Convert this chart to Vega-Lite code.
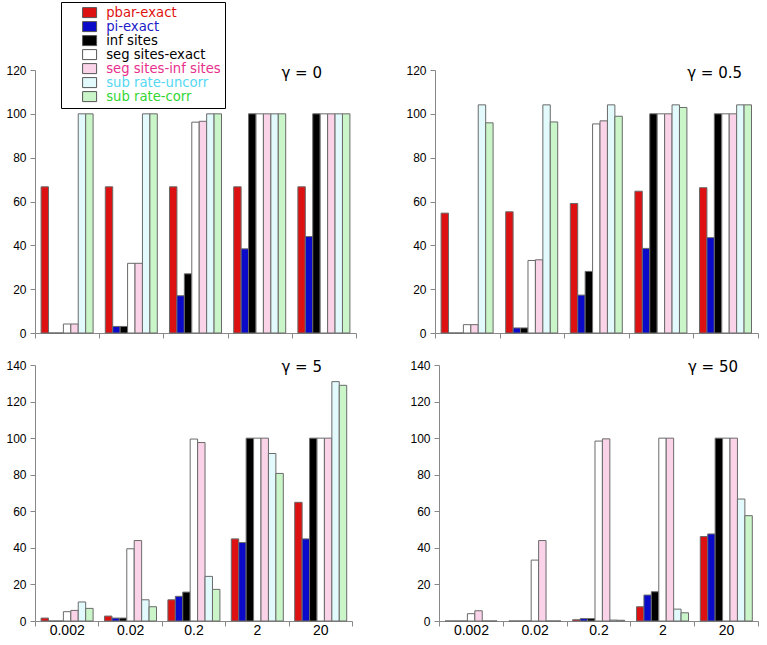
{
  "$schema": "https://vega.github.io/schema/vega-lite/v6.json",
  "background": "white",
  "padding": {"left": 5, "top": 1, "right": 2, "bottom": 0},
  "datasets": {
    "bars": [
      {"g": "0", "n": "0.002", "s": "pbar-exact", "v": 66.7},
      {"g": "0", "n": "0.002", "s": "pi-exact", "v": 0},
      {"g": "0", "n": "0.002", "s": "inf sites", "v": 0},
      {"g": "0", "n": "0.002", "s": "seg sites-exact", "v": 4.1},
      {"g": "0", "n": "0.002", "s": "seg sites-inf sites", "v": 4.1},
      {"g": "0", "n": "0.002", "s": "sub rate-uncorr", "v": 100},
      {"g": "0", "n": "0.002", "s": "sub rate-corr", "v": 100},
      {"g": "0", "n": "0.02", "s": "pbar-exact", "v": 66.7},
      {"g": "0", "n": "0.02", "s": "pi-exact", "v": 3.0},
      {"g": "0", "n": "0.02", "s": "inf sites", "v": 3.0},
      {"g": "0", "n": "0.02", "s": "seg sites-exact", "v": 31.8},
      {"g": "0", "n": "0.02", "s": "seg sites-inf sites", "v": 31.8},
      {"g": "0", "n": "0.02", "s": "sub rate-uncorr", "v": 100},
      {"g": "0", "n": "0.02", "s": "sub rate-corr", "v": 100},
      {"g": "0", "n": "0.2", "s": "pbar-exact", "v": 66.7},
      {"g": "0", "n": "0.2", "s": "pi-exact", "v": 17},
      {"g": "0", "n": "0.2", "s": "inf sites", "v": 27},
      {"g": "0", "n": "0.2", "s": "seg sites-exact", "v": 96.2},
      {"g": "0", "n": "0.2", "s": "seg sites-inf sites", "v": 96.6},
      {"g": "0", "n": "0.2", "s": "sub rate-uncorr", "v": 100},
      {"g": "0", "n": "0.2", "s": "sub rate-corr", "v": 100},
      {"g": "0", "n": "2", "s": "pbar-exact", "v": 66.7},
      {"g": "0", "n": "2", "s": "pi-exact", "v": 38.4},
      {"g": "0", "n": "2", "s": "inf sites", "v": 100},
      {"g": "0", "n": "2", "s": "seg sites-exact", "v": 100},
      {"g": "0", "n": "2", "s": "seg sites-inf sites", "v": 100},
      {"g": "0", "n": "2", "s": "sub rate-uncorr", "v": 100},
      {"g": "0", "n": "2", "s": "sub rate-corr", "v": 100},
      {"g": "0", "n": "20", "s": "pbar-exact", "v": 66.7},
      {"g": "0", "n": "20", "s": "pi-exact", "v": 44},
      {"g": "0", "n": "20", "s": "inf sites", "v": 100},
      {"g": "0", "n": "20", "s": "seg sites-exact", "v": 100},
      {"g": "0", "n": "20", "s": "seg sites-inf sites", "v": 100},
      {"g": "0", "n": "20", "s": "sub rate-uncorr", "v": 100},
      {"g": "0", "n": "20", "s": "sub rate-corr", "v": 100},

      {"g": "0.5", "n": "0.002", "s": "pbar-exact", "v": 54.7},
      {"g": "0.5", "n": "0.002", "s": "pi-exact", "v": 0},
      {"g": "0.5", "n": "0.002", "s": "inf sites", "v": 0},
      {"g": "0.5", "n": "0.002", "s": "seg sites-exact", "v": 3.8},
      {"g": "0.5", "n": "0.002", "s": "seg sites-inf sites", "v": 3.8},
      {"g": "0.5", "n": "0.002", "s": "sub rate-uncorr", "v": 104.1},
      {"g": "0.5", "n": "0.002", "s": "sub rate-corr", "v": 95.9},
      {"g": "0.5", "n": "0.02", "s": "pbar-exact", "v": 55.3},
      {"g": "0.5", "n": "0.02", "s": "pi-exact", "v": 2.3},
      {"g": "0.5", "n": "0.02", "s": "inf sites", "v": 2.3},
      {"g": "0.5", "n": "0.02", "s": "seg sites-exact", "v": 33.1},
      {"g": "0.5", "n": "0.02", "s": "seg sites-inf sites", "v": 33.4},
      {"g": "0.5", "n": "0.02", "s": "sub rate-uncorr", "v": 104.1},
      {"g": "0.5", "n": "0.02", "s": "sub rate-corr", "v": 96.3},
      {"g": "0.5", "n": "0.2", "s": "pbar-exact", "v": 59.1},
      {"g": "0.5", "n": "0.2", "s": "pi-exact", "v": 17.3},
      {"g": "0.5", "n": "0.2", "s": "inf sites", "v": 28.1},
      {"g": "0.5", "n": "0.2", "s": "seg sites-exact", "v": 95.4},
      {"g": "0.5", "n": "0.2", "s": "seg sites-inf sites", "v": 96.8},
      {"g": "0.5", "n": "0.2", "s": "sub rate-uncorr", "v": 104.1},
      {"g": "0.5", "n": "0.2", "s": "sub rate-corr", "v": 98.9},
      {"g": "0.5", "n": "2", "s": "pbar-exact", "v": 64.7},
      {"g": "0.5", "n": "2", "s": "pi-exact", "v": 38.6},
      {"g": "0.5", "n": "2", "s": "inf sites", "v": 100},
      {"g": "0.5", "n": "2", "s": "seg sites-exact", "v": 100},
      {"g": "0.5", "n": "2", "s": "seg sites-inf sites", "v": 100},
      {"g": "0.5", "n": "2", "s": "sub rate-uncorr", "v": 104.1},
      {"g": "0.5", "n": "2", "s": "sub rate-corr", "v": 102.9},
      {"g": "0.5", "n": "20", "s": "pbar-exact", "v": 66.3},
      {"g": "0.5", "n": "20", "s": "pi-exact", "v": 43.5},
      {"g": "0.5", "n": "20", "s": "inf sites", "v": 100},
      {"g": "0.5", "n": "20", "s": "seg sites-exact", "v": 100},
      {"g": "0.5", "n": "20", "s": "seg sites-inf sites", "v": 100},
      {"g": "0.5", "n": "20", "s": "sub rate-uncorr", "v": 104.1},
      {"g": "0.5", "n": "20", "s": "sub rate-corr", "v": 104.1},

      {"g": "5", "n": "0.002", "s": "pbar-exact", "v": 1.6},
      {"g": "5", "n": "0.002", "s": "pi-exact", "v": 0},
      {"g": "5", "n": "0.002", "s": "inf sites", "v": 0},
      {"g": "5", "n": "0.002", "s": "seg sites-exact", "v": 5.1},
      {"g": "5", "n": "0.002", "s": "seg sites-inf sites", "v": 5.8},
      {"g": "5", "n": "0.002", "s": "sub rate-uncorr", "v": 10.4},
      {"g": "5", "n": "0.002", "s": "sub rate-corr", "v": 6.9},
      {"g": "5", "n": "0.02", "s": "pbar-exact", "v": 2.7},
      {"g": "5", "n": "0.02", "s": "pi-exact", "v": 1.6},
      {"g": "5", "n": "0.02", "s": "inf sites", "v": 1.6},
      {"g": "5", "n": "0.02", "s": "seg sites-exact", "v": 39.5},
      {"g": "5", "n": "0.02", "s": "seg sites-inf sites", "v": 44},
      {"g": "5", "n": "0.02", "s": "sub rate-uncorr", "v": 11.6},
      {"g": "5", "n": "0.02", "s": "sub rate-corr", "v": 7.8},
      {"g": "5", "n": "0.2", "s": "pbar-exact", "v": 11.6},
      {"g": "5", "n": "0.2", "s": "pi-exact", "v": 13.5},
      {"g": "5", "n": "0.2", "s": "inf sites", "v": 15.8},
      {"g": "5", "n": "0.2", "s": "seg sites-exact", "v": 99.5},
      {"g": "5", "n": "0.2", "s": "seg sites-inf sites", "v": 97.6},
      {"g": "5", "n": "0.2", "s": "sub rate-uncorr", "v": 24.4},
      {"g": "5", "n": "0.2", "s": "sub rate-corr", "v": 17.3},
      {"g": "5", "n": "2", "s": "pbar-exact", "v": 44.9},
      {"g": "5", "n": "2", "s": "pi-exact", "v": 42.9},
      {"g": "5", "n": "2", "s": "inf sites", "v": 100},
      {"g": "5", "n": "2", "s": "seg sites-exact", "v": 100},
      {"g": "5", "n": "2", "s": "seg sites-inf sites", "v": 100},
      {"g": "5", "n": "2", "s": "sub rate-uncorr", "v": 91.6},
      {"g": "5", "n": "2", "s": "sub rate-corr", "v": 80.7},
      {"g": "5", "n": "20", "s": "pbar-exact", "v": 64.9},
      {"g": "5", "n": "20", "s": "pi-exact", "v": 44.9},
      {"g": "5", "n": "20", "s": "inf sites", "v": 100},
      {"g": "5", "n": "20", "s": "seg sites-exact", "v": 100},
      {"g": "5", "n": "20", "s": "seg sites-inf sites", "v": 100},
      {"g": "5", "n": "20", "s": "sub rate-uncorr", "v": 130.9},
      {"g": "5", "n": "20", "s": "sub rate-corr", "v": 128.9},

      {"g": "50", "n": "0.002", "s": "pbar-exact", "v": 0},
      {"g": "50", "n": "0.002", "s": "pi-exact", "v": 0},
      {"g": "50", "n": "0.002", "s": "inf sites", "v": 0},
      {"g": "50", "n": "0.002", "s": "seg sites-exact", "v": 4},
      {"g": "50", "n": "0.002", "s": "seg sites-inf sites", "v": 5.6},
      {"g": "50", "n": "0.002", "s": "sub rate-uncorr", "v": 0},
      {"g": "50", "n": "0.002", "s": "sub rate-corr", "v": 0},
      {"g": "50", "n": "0.02", "s": "pbar-exact", "v": 0},
      {"g": "50", "n": "0.02", "s": "pi-exact", "v": 0},
      {"g": "50", "n": "0.02", "s": "inf sites", "v": 0},
      {"g": "50", "n": "0.02", "s": "seg sites-exact", "v": 33.3},
      {"g": "50", "n": "0.02", "s": "seg sites-inf sites", "v": 44},
      {"g": "50", "n": "0.02", "s": "sub rate-uncorr", "v": 0},
      {"g": "50", "n": "0.02", "s": "sub rate-corr", "v": 0},
      {"g": "50", "n": "0.2", "s": "pbar-exact", "v": 0.7},
      {"g": "50", "n": "0.2", "s": "pi-exact", "v": 1.3},
      {"g": "50", "n": "0.2", "s": "inf sites", "v": 1.3},
      {"g": "50", "n": "0.2", "s": "seg sites-exact", "v": 98.4},
      {"g": "50", "n": "0.2", "s": "seg sites-inf sites", "v": 99.6},
      {"g": "50", "n": "0.2", "s": "sub rate-uncorr", "v": 0.5},
      {"g": "50", "n": "0.2", "s": "sub rate-corr", "v": 0.4},
      {"g": "50", "n": "2", "s": "pbar-exact", "v": 7.8},
      {"g": "50", "n": "2", "s": "pi-exact", "v": 14.2},
      {"g": "50", "n": "2", "s": "inf sites", "v": 16},
      {"g": "50", "n": "2", "s": "seg sites-exact", "v": 100},
      {"g": "50", "n": "2", "s": "seg sites-inf sites", "v": 100},
      {"g": "50", "n": "2", "s": "sub rate-uncorr", "v": 6.5},
      {"g": "50", "n": "2", "s": "sub rate-corr", "v": 4.5},
      {"g": "50", "n": "20", "s": "pbar-exact", "v": 46.2},
      {"g": "50", "n": "20", "s": "pi-exact", "v": 47.6},
      {"g": "50", "n": "20", "s": "inf sites", "v": 100},
      {"g": "50", "n": "20", "s": "seg sites-exact", "v": 100},
      {"g": "50", "n": "20", "s": "seg sites-inf sites", "v": 100},
      {"g": "50", "n": "20", "s": "sub rate-uncorr", "v": 66.7},
      {"g": "50", "n": "20", "s": "sub rate-corr", "v": 57.6}
    ]
  },
  "config": {
    "view": {"stroke": null},
    "font": "Liberation Sans",
    "axis": {"labelFont": "Liberation Sans", "labelFontSize": 12, "labelColor": "#000", "domainColor": "#888", "tickColor": "#888", "tickSize": 5, "grid": false, "title": null, "labelPadding": 4},
    "legend": {"rowPadding": -1},
    "bar": {"stroke": "#6a6a6a", "strokeWidth": 1},
    "title": {"font": "DejaVu Sans", "fontSize": 15, "fontWeight": "normal", "anchor": "end", "frame": "group", "orient": "top", "color": "#000", "baseline": "alphabetic"}
  },
  "spacing": 20,
  "resolve": {"legend": {"color": "independent"}},
  "vconcat": [
    {
      "spacing": 48,
      "resolve": {"legend": {"color": "independent"}},
      "hconcat": [
        {
          "width": 321, "height": 263,
          "data": {"name": "bars"},
          "transform": [{"filter": "datum.g == '0'"}],
          "title": {"text": "γ = 0", "offset": -79, "dx": -34},
          "mark": {"type": "bar"},
          "encoding": {
            "x": {"field": "n", "type": "ordinal", "sort": ["0.002", "0.02", "0.2", "2", "20"], "scale": {"paddingInner": 0, "paddingOuter": 0}, "axis": {"labels": false, "tickBand": "extent"}},
            "xOffset": {"field": "s", "type": "nominal", "sort": ["pbar-exact", "pi-exact", "inf sites", "seg sites-exact", "seg sites-inf sites", "sub rate-uncorr", "sub rate-corr"], "scale": {"paddingInner": 0, "paddingOuter": 0.82}},
            "y": {"field": "v", "type": "quantitative", "scale": {"domain": [0, 120], "nice": false}, "axis": {"values": [0, 20, 40, 60, 80, 100, 120]}},
            "color": {
              "field": "s", "type": "nominal",
              "scale": {"domain": ["pbar-exact", "pi-exact", "inf sites", "seg sites-exact", "seg sites-inf sites", "sub rate-uncorr", "sub rate-corr"], "range": ["#dd1111", "#0a0ac8", "#000000", "#ffffff", "#fbd3e8", "#e2fafc", "#c9f5c9"]},
              "legend": {
                "orient": "none", "legendX": 26, "legendY": -68, "title": null, "columns": 1,
                "fillColor": "white", "strokeColor": "black", "padding": 4,
                "symbolOffset": 18, "symbolType": "M-1.4,-1H1.4V1H-1.4Z", "symbolSize": 100,
                "symbolStrokeColor": "#555", "symbolStrokeWidth": 1,
                "labelFont": "DejaVu Sans", "labelFontSize": 13.2, "labelOffset": 10, "labelLimit": 300, "labelAlign": "left",
                "labelColor": {"expr": "datum.value == 'pbar-exact' ? '#e01010' : datum.value == 'pi-exact' ? '#2020c8' : datum.value == 'seg sites-inf sites' ? '#e8308c' : datum.value == 'sub rate-uncorr' ? '#55d8f2' : datum.value == 'sub rate-corr' ? '#33d633' : '#000000'"}
              }
            }
          }
        },
        {
          "width": 323, "height": 263,
          "data": {"name": "bars"},
          "transform": [{"filter": "datum.g == '0.5'"}],
          "title": {"text": "γ = 0.5", "offset": -17, "dx": -16},
          "mark": {"type": "bar"},
          "encoding": {
            "x": {"field": "n", "type": "ordinal", "sort": ["0.002", "0.02", "0.2", "2", "20"], "scale": {"paddingInner": 0, "paddingOuter": 0}, "axis": {"labels": false, "tickBand": "extent"}},
            "xOffset": {"field": "s", "type": "nominal", "sort": ["pbar-exact", "pi-exact", "inf sites", "seg sites-exact", "seg sites-inf sites", "sub rate-uncorr", "sub rate-corr"], "scale": {"paddingInner": 0, "paddingOuter": 0.82}},
            "y": {"field": "v", "type": "quantitative", "scale": {"domain": [0, 120], "nice": false}, "axis": {"values": [0, 20, 40, 60, 80, 100, 120]}},
            "color": {
              "field": "s", "type": "nominal",
              "scale": {"domain": ["pbar-exact", "pi-exact", "inf sites", "seg sites-exact", "seg sites-inf sites", "sub rate-uncorr", "sub rate-corr"], "range": ["#dd1111", "#0a0ac8", "#000000", "#ffffff", "#fbd3e8", "#e2fafc", "#c9f5c9"]},
              "legend": null
            }
          }
        }
      ]
    },
    {
      "spacing": 56,
      "resolve": {"legend": {"color": "independent"}},
      "hconcat": [
        {
          "width": 317, "height": 256,
          "data": {"name": "bars"},
          "transform": [{"filter": "datum.g == '5'"}],
          "title": {"text": "γ = 5", "offset": -16, "dx": -30},
          "mark": {"type": "bar"},
          "encoding": {
            "x": {"field": "n", "type": "ordinal", "sort": ["0.002", "0.02", "0.2", "2", "20"], "scale": {"paddingInner": 0, "paddingOuter": 0}, "axis": {"labelAngle": 0, "tickBand": "extent", "labelFontSize": 14, "labelPadding": -3}},
            "xOffset": {"field": "s", "type": "nominal", "sort": ["pbar-exact", "pi-exact", "inf sites", "seg sites-exact", "seg sites-inf sites", "sub rate-uncorr", "sub rate-corr"], "scale": {"paddingInner": 0, "paddingOuter": 0.82}},
            "y": {"field": "v", "type": "quantitative", "scale": {"domain": [0, 140], "nice": false}, "axis": {"values": [0, 20, 40, 60, 80, 100, 120, 140]}},
            "color": {
              "field": "s", "type": "nominal",
              "scale": {"domain": ["pbar-exact", "pi-exact", "inf sites", "seg sites-exact", "seg sites-inf sites", "sub rate-uncorr", "sub rate-corr"], "range": ["#dd1111", "#0a0ac8", "#000000", "#ffffff", "#fbd3e8", "#e2fafc", "#c9f5c9"]},
              "legend": null
            }
          }
        },
        {
          "width": 319, "height": 256,
          "data": {"name": "bars"},
          "transform": [{"filter": "datum.g == '50'"}],
          "title": {"text": "γ = 50", "offset": -16, "dx": -20},
          "mark": {"type": "bar"},
          "encoding": {
            "x": {"field": "n", "type": "ordinal", "sort": ["0.002", "0.02", "0.2", "2", "20"], "scale": {"paddingInner": 0, "paddingOuter": 0}, "axis": {"labelAngle": 0, "tickBand": "extent", "labelFontSize": 14, "labelPadding": -3}},
            "xOffset": {"field": "s", "type": "nominal", "sort": ["pbar-exact", "pi-exact", "inf sites", "seg sites-exact", "seg sites-inf sites", "sub rate-uncorr", "sub rate-corr"], "scale": {"paddingInner": 0, "paddingOuter": 0.82}},
            "y": {"field": "v", "type": "quantitative", "scale": {"domain": [0, 140], "nice": false}, "axis": {"values": [0, 20, 40, 60, 80, 100, 120, 140]}},
            "color": {
              "field": "s", "type": "nominal",
              "scale": {"domain": ["pbar-exact", "pi-exact", "inf sites", "seg sites-exact", "seg sites-inf sites", "sub rate-uncorr", "sub rate-corr"], "range": ["#dd1111", "#0a0ac8", "#000000", "#ffffff", "#fbd3e8", "#e2fafc", "#c9f5c9"]},
              "legend": null
            }
          }
        }
      ]
    }
  ]
}
